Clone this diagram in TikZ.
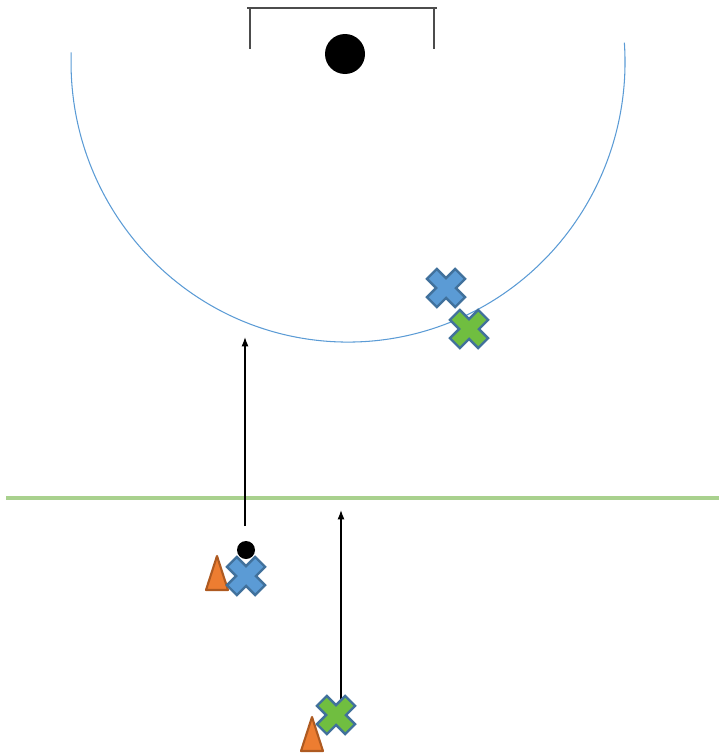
\documentclass[tikz,border=0pt]{standalone}
\definecolor{arcblue}{RGB}{91,155,213}
\definecolor{crossblue}{RGB}{91,155,213}
\definecolor{crossedge}{RGB}{65,113,156}
\definecolor{crossgreen}{RGB}{112,190,64}
\definecolor{conorange}{RGB}{237,125,49}
\definecolor{conedge}{RGB}{174,90,33}
\definecolor{linegreen}{RGB}{169,209,142}
\definecolor{postgray}{gray}{0.3}
\usepackage{tikz}
\usetikzlibrary{arrows.meta,positioning,calc}
\tikzset{
  runarrow/.style={-{Latex[length=8pt,width=6pt]},line width=1.1pt},
  goalln/.style={postgray,line width=1.6pt},
  arcln/.style={arcblue,line width=0.9pt},
  halfln/.style={linegreen,line width=2.8pt},
  ballnode/.style={circle,fill=black,inner sep=0pt},
  pics/xmark/.style={code={
    \filldraw[fill=#1,draw=crossedge,line width=2pt,rotate=45]
      (-7,20)--(7,20)--(7,7)--(20,7)--(20,-7)--(7,-7)--(7,-20)--(-7,-20)
      --(-7,-7)--(-20,-7)--(-20,7)--(-7,7)--cycle;
  }},
  pics/cone/.style={code={
    \filldraw[fill=conorange,draw=conedge,line width=1.8pt,line join=round]
      (-11,17)--(11,17)--(0,-17)--cycle;
  }},
}
\begin{document}
\begin{tikzpicture}[x=0.03cm,y=-0.03cm]
  \useasboundingbox (0,0) rectangle (719,755);
  % --- goal ---
  \draw[goalln] (247,8)--(437,8);
  \draw[goalln] (250,8)--(250,49);
  \draw[goalln] (434,8)--(434,49);
  \node[ballnode,minimum size=40*0.03cm] (goalball) at (345,54) {};
  % --- area arc ---
  \draw[arcln] (71.2,52.3) arc[start angle=182,end angle=-4,x radius=277,y radius=280];
  % --- half-way line ---
  \draw[halfln] (6,498)--(719,498);
  % --- players ---
  \coordinate (defA) at (446,288);
  \coordinate (defB) at (469,329);
  \coordinate (atkA) at (246,576);
  \coordinate (atkB) at (336,715);
  \coordinate (runA) at (245,337);
  \coordinate (runB) at (341,510);
  \coordinate (startA) at (245,526);
  \coordinate (startB) at (341,715);
  \draw[runarrow] (startA)--(runA);
  \draw[runarrow] (startB)--(runB);
  \pic at (defA) {xmark=crossblue};
  \pic at (defB) {xmark=crossgreen};
  \pic at (217,573) {cone};
  \pic at (312,734) {cone};
  \pic at (atkA) {xmark=crossblue};
  \pic at (atkB) {xmark=crossgreen};
  \node[ballnode,minimum size=18*0.03cm] (ball) at (246,550) {};
\end{tikzpicture}
\end{document}
